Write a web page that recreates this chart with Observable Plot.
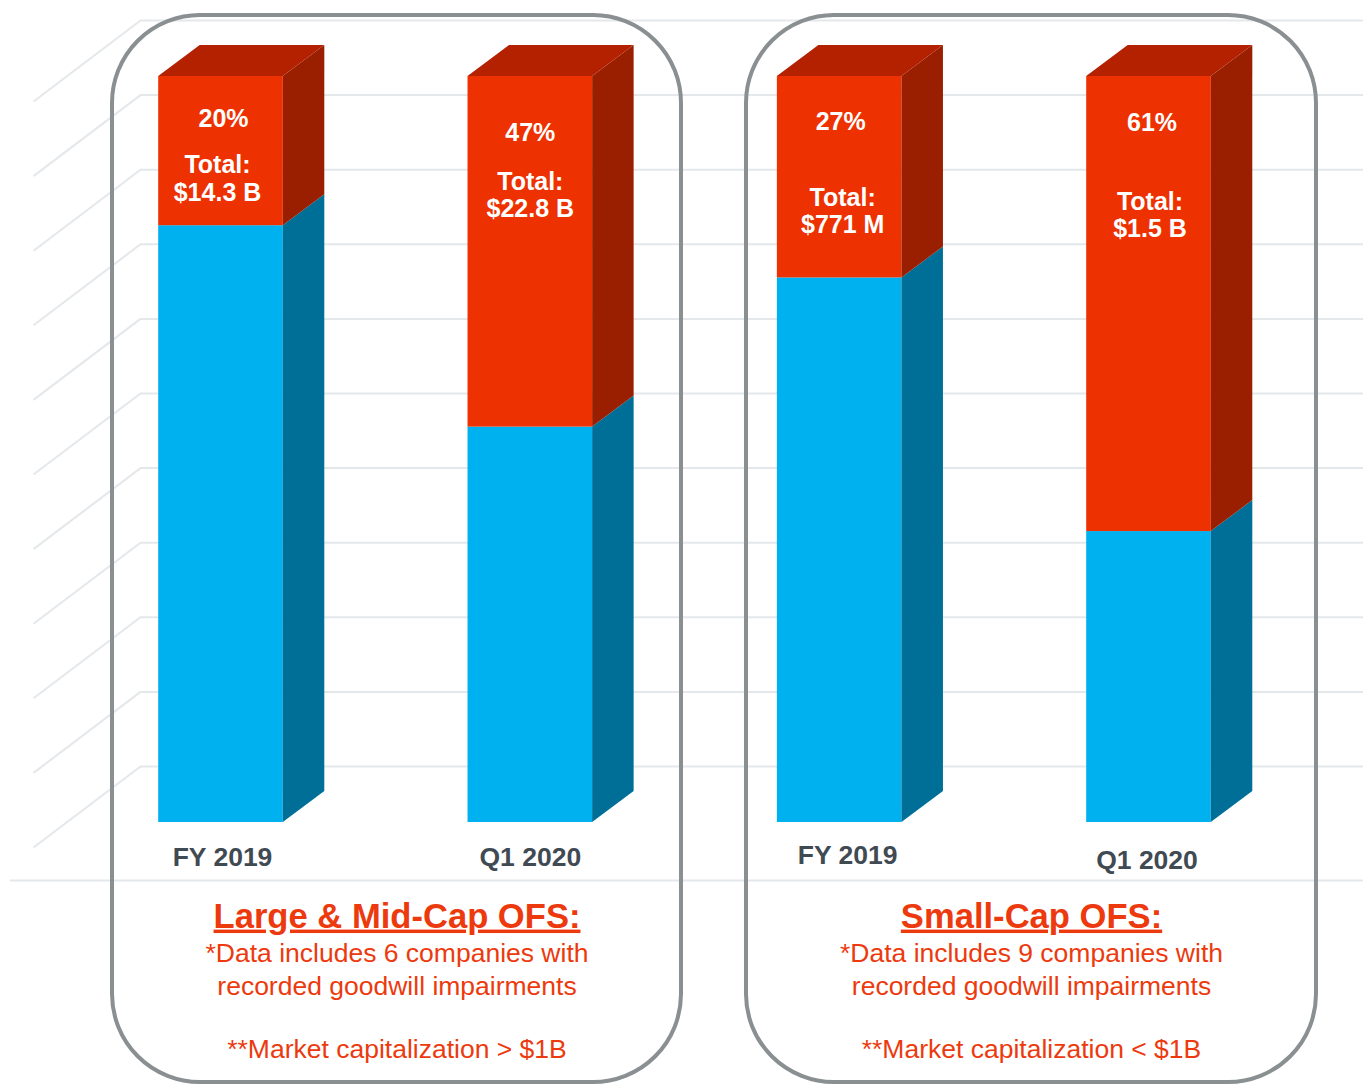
<!DOCTYPE html>
<html><head><meta charset="utf-8">
<script src="https://cdn.jsdelivr.net/npm/d3@7"></script>
<script src="https://cdn.jsdelivr.net/npm/@observablehq/plot@0.6"></script>
<style>html,body{margin:0;padding:0;background:#fff;} #chart svg{display:block}</style>
</head><body><div id="chart"></div>
<script>
// ---------- data ----------
const categories = ["FY 2019", "Q1 2020", "FY 2019", "Q1 2020"];
const impairedPct = [20, 47, 27, 61];               // red share (%)
const totals = ["$14.3 B", "$22.8 B", "$771 M", "$1.5 B"];
const gridTicks = [0, 10, 20, 30, 40, 50, 60, 70, 80, 90, 100];
const panelTitles = ["Large & Mid-Cap OFS:", "Small-Cap OFS:"];
const panelNote1 = ["*Data includes 6 companies with", "*Data includes 9 companies with"];
const panelNote2 = ["recorded goodwill impairments", "recorded goodwill impairments"];
const panelNote3 = ["**Market capitalization > $1B", "**Market capitalization < $1B"];

// ---------- layout (pixels) ----------
const W = 1363, H = 1084;
const STEP = 309.33, X0 = 220.5, Y0 = 822, PPU = 7.46;
const xu = px => (px - X0) / STEP;
const yu = px => (Y0 - px) / PPU;
const halfW = 62.3 / STEP, depthX = 41.5 / STEP, depthY = 31 / PPU;
const pctOff = [[2.5, 42], [0, 56], [1, 45], [3, 46]];
const totOff = [[-3.5, 101.5], [0, 118], [3, 134], [1, 138]];
const catOff = [[1.5, 35], [0, 35], [8, 33], [-2, 38]];
const panelBox = [[112, 681], [746, 1316]];
const captionY = [916, 953.5, 986, 1049];

const C = {
  redFront: "#EE3100", redTop: "#B42100", redSide: "#9A1F00",
  blueFront: "#00B1EF", blueSide: "#006F98",
  grid: "#E4E8EB", panel: "#8A8F92", cat: "#3F4A53", caption: "#EC3A0E"
};

const bars = categories.map((c, i) => ({i, cat: c, pct: impairedPct[i], blue: 100 - impairedPct[i], total: totals[i]}));
const blueSide = bars.flatMap(d => [
  {i: d.i, x: d.i + halfW, y1: 0, y2: d.blue},
  {i: d.i, x: d.i + halfW + depthX, y1: depthY, y2: d.blue + depthY}]);
const redSide = bars.flatMap(d => [
  {i: d.i, x: d.i + halfW, y1: d.blue, y2: 100},
  {i: d.i, x: d.i + halfW + depthX, y1: d.blue + depthY, y2: 100 + depthY}]);
const topFace = bars.flatMap(d => [
  {i: d.i, y: 100, x1: d.i - halfW, x2: d.i + halfW},
  {i: d.i, y: 100 + depthY, x1: d.i - halfW + depthX, x2: d.i + halfW + depthX}]);

const panels = panelTitles.map((t, k) => ({k, title: t, n1: panelNote1[k], n2: panelNote2[k], n3: panelNote3[k],
  x1: xu(panelBox[k][0]), x2: xu(panelBox[k][1]), cx: xu((panelBox[k][0] + panelBox[k][1]) / 2)}));

const font = "Liberation Sans, Arial, Helvetica, sans-serif";
const wallDy = 56 / PPU, floorDy = 25 / PPU;

const chart = Plot.plot({
  width: W, height: H, margin: 0,
  x: {domain: [xu(0), xu(W)], axis: null},
  y: {domain: [yu(H), yu(0)], axis: null},
  style: {fontFamily: font, background: "#fff"},
  marks: [
    Plot.ruleY([yu(880)], {x1: xu(10), x2: xu(W), stroke: C.grid, strokeWidth: 2}),
    Plot.ruleY(gridTicks, {y: d => d + wallDy, x1: xu(140), x2: xu(W), stroke: C.grid, strokeWidth: 2}),
    Plot.link(gridTicks, {x1: xu(33), y1: d => d - floorDy, x2: xu(140), y2: d => d + wallDy, stroke: C.grid, strokeWidth: 2}),
    Plot.rect(panels, {x1: "x1", x2: "x2", y1: yu(1082), y2: yu(15), rx: 88, fill: "none", stroke: C.panel, strokeWidth: 4}),
    Plot.rect(bars, {x1: d => d.i - halfW, x2: d => d.i + halfW, y1: 0, y2: "blue", fill: C.blueFront}),
    Plot.rect(bars, {x1: d => d.i - halfW, x2: d => d.i + halfW, y1: "blue", y2: 100, fill: C.redFront}),
    Plot.areaY(blueSide, {x: "x", y1: "y1", y2: "y2", z: "i", fill: C.blueSide}),
    Plot.areaY(redSide, {x: "x", y1: "y1", y2: "y2", z: "i", fill: C.redSide}),
    Plot.areaX(topFace, {y: "y", x1: "x1", x2: "x2", z: "i", fill: C.redTop}),
    Plot.text(bars, {x: d => d.i + pctOff[d.i][0] / STEP, y: d => 100 - pctOff[d.i][1] / PPU,
      text: d => d.pct + "%", fill: "#fff", fontSize: 25, fontWeight: "bold"}),
    Plot.text(bars, {x: d => d.i + totOff[d.i][0] / STEP, y: d => 100 - totOff[d.i][1] / PPU,
      text: d => "Total:\n" + d.total, lineHeight: 1.1, fill: "#fff", fontSize: 25, fontWeight: "bold"}),
    Plot.text(bars, {x: d => d.i + catOff[d.i][0] / STEP, y: d => -catOff[d.i][1] / PPU,
      text: "cat", fill: C.cat, fontSize: 26.5, fontWeight: "bold"}),
    Plot.text(panels, {x: "cx", y: yu(captionY[0]), text: "title", fill: C.caption, fontSize: 34.6, fontWeight: "bold"}),
    Plot.text(panels, {x: "cx", y: yu(captionY[1]), text: "n1", fill: C.caption, fontSize: 26.5}),
    Plot.text(panels, {x: "cx", y: yu(captionY[2]), text: "n2", fill: C.caption, fontSize: 26.5}),
    Plot.text(panels, {x: "cx", y: yu(captionY[3]), text: "n3", fill: C.caption, fontSize: 26.5})
  ]
});
d3.select(chart).selectAll("text")
  .filter(function () { return panelTitles.includes(this.textContent); })
  .style("text-decoration", "underline");
document.getElementById("chart").appendChild(chart);
</script>
</body></html>
